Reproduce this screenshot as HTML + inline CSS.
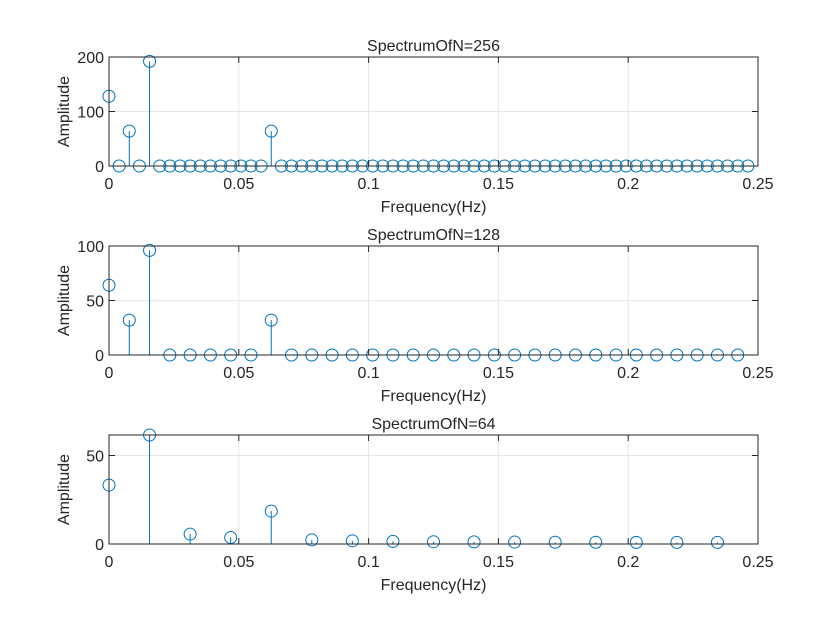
<!DOCTYPE html>
<html><head><meta charset="utf-8"><style>
body{margin:0;background:#fff}
svg text{font-family:"Liberation Sans",Arial,sans-serif;fill:#262626}
</style></head><body>
<svg id="fig" width="840" height="630" viewBox="0 0 840 630" xmlns="http://www.w3.org/2000/svg">
<rect width="840" height="630" fill="#fff"/>
</svg>
<script>
const titles = ["SpectrumOfN=256", "SpectrumOfN=128", "SpectrumOfN=64"];
const sampleCounts = [256, 128, 64];
const yMaxes = [200, 100, 61.6];
const yTicks1 = [0, 100, 200];
const yTicks2 = [0, 50, 100];
const yTicks3 = [0, 50];
const xTicks = [0, 0.05, 0.1, 0.15, 0.2, 0.25];
const xTickLabels = ["0", "0.05", "0.1", "0.15", "0.2", "0.25"];
const amps256 = [128,0,64,0,192,0,0,0,0,0,0,0,0,0,0,0,64,0,0,0,0,0,0,0,0,0,0,0,0,0,0,0,0,0,0,0,0,0,0,0,0,0,0,0,0,0,0,0,0,0,0,0,0,0,0,0,0,0,0,0,0,0,0,0];
const amps128 = [64,32,96,0,0,0,0,0,32,0,0,0,0,0,0,0,0,0,0,0,0,0,0,0,0,0,0,0,0,0,0,0];
const amps64 = [33.3,61.6,5.6,3.7,18.6,2.3,1.8,1.5,1.3,1.2,1.1,1.0,1.0,0.9,0.9,0.9];

const NS = "http://www.w3.org/2000/svg";
const svg = document.getElementById("fig");
function mk(tag, attrs, parent){const e=document.createElementNS(NS,tag);for(const k in attrs)e.setAttribute(k,attrs[k]);(parent||svg).appendChild(e);return e;}

const X0=109, X1=758, xMax=0.25;
const tops=[57,246,435], H=109;
const allAmps=[amps256,amps128,amps64];
const allYTicks=[yTicks1,yTicks2,yTicks3];

for(let p=0;p<3;p++){
  const top=tops[p], bot=top+H, ymax=yMaxes[p];
  const sx=v=>X0+v/xMax*(X1-X0);
  const sy=v=>bot-v/ymax*H;
  const g=mk("g",{});
  
  
  xTicks.forEach(t=>{const x=sx(t);mk("line",{x1:x,x2:x,y1:top,y2:bot,stroke:"#e6e6e6","stroke-width":1},g);});
  allYTicks[p].forEach(t=>{const y=sy(t);mk("line",{x1:X0,x2:X1,y1:y,y2:y,stroke:"#e6e6e6","stroke-width":1},g);});
  const amps=allAmps[p], N=sampleCounts[p];
  amps.forEach((a,k)=>{
    const x=sx(k/N), y=sy(a);
    const ln=mk("line",{x1:x,x2:x,y1:bot,y2:y,stroke:"#0072BD","stroke-width":1},g);
    
    
    const c=mk("circle",{cx:x,cy:y,r:6,fill:"none",stroke:"#0072BD","stroke-width":1},g);
    
    
  });
  mk("rect",{x:X0,y:top,width:X1-X0,height:H,fill:"none",stroke:"#262626","stroke-width":1},g);
  xTicks.forEach((t,i)=>{const x=sx(t);
    mk("line",{x1:x,x2:x,y1:bot,y2:bot-6,stroke:"#262626"},g);
    mk("line",{x1:x,x2:x,y1:top,y2:top+6,stroke:"#262626"},g);
    const tx=mk("text",{x:x,y:bot+23,"text-anchor":"middle","font-size":16},g);tx.textContent=xTickLabels[i];
    
    
  });
  allYTicks[p].forEach(t=>{const y=sy(t);
    mk("line",{x1:X0,x2:X0+6,y1:y,y2:y,stroke:"#262626"},g);
    mk("line",{x1:X1,x2:X1-6,y1:y,y2:y,stroke:"#262626"},g);
    const tx=mk("text",{x:X0-5,y:y+6,"text-anchor":"end","font-size":16},g);tx.textContent=String(t);
    
    
  });
  const tt=mk("text",{x:(X0+X1)/2,y:top-6,"text-anchor":"middle","font-size":16,fill:"#000"},g);tt.textContent=titles[p];
  
  
  const xl=mk("text",{x:(X0+X1)/2,y:bot+46,"text-anchor":"middle","font-size":16},g);xl.textContent="Frequency(Hz)";
  
  
  const yl=mk("text",{x:0,y:0,"text-anchor":"middle","font-size":16,transform:`translate(69,${top+H/2}) rotate(-90)`},g);yl.textContent="Amplitude";
  
  
}
</script>
</body></html>
